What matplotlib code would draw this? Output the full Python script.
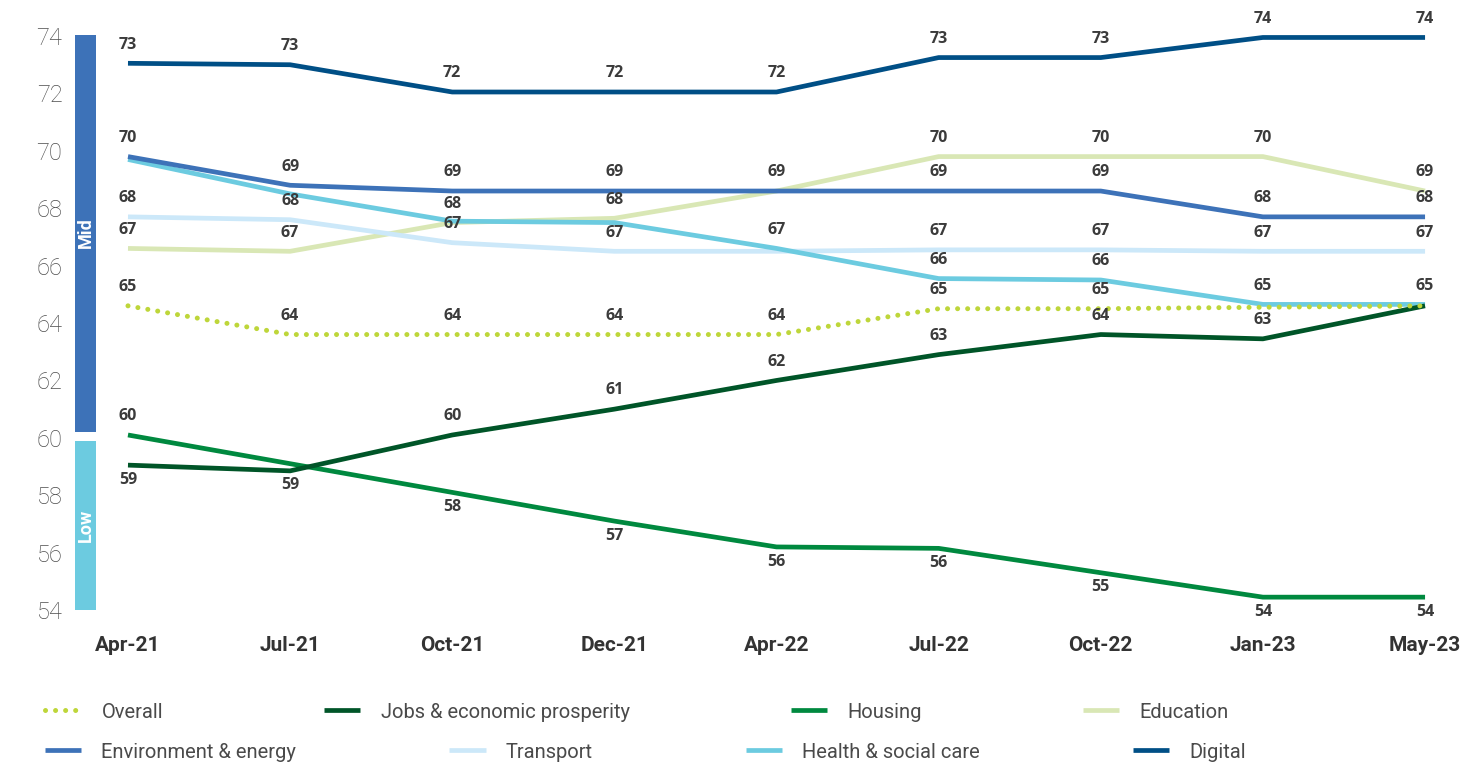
import matplotlib

matplotlib.use("Agg")
import matplotlib.pyplot as plt
import matplotlib.transforms as mtransforms
import numpy as np
from matplotlib.patches import Rectangle

plt.rcParams["font.family"] = ["Roboto", "DejaVu Sans"]

months = ["Apr-21", "Jul-21", "Oct-21", "Dec-21", "Apr-22", "Jul-22", "Oct-22", "Jan-23", "May-23"]

overall = [64.6, 63.6, 63.6, 63.6, 63.6, 64.5, 64.5, 64.55, 64.6]
jobs = [59.05, 58.85, 60.1, 61.0, 62.0, 62.9, 63.6, 63.45, 64.6]
housing = [60.1, 59.1, 58.1, 57.1, 56.2, 56.15, 55.3, 54.45, 54.45]
education = [66.6, 66.5, 67.5, 67.65, 68.6, 69.8, 69.8, 69.8, 68.6]
environment = [69.8, 68.8, 68.6, 68.6, 68.6, 68.6, 68.6, 67.7, 67.7]
transport = [67.7, 67.6, 66.8, 66.5, 66.5, 66.55, 66.55, 66.5, 66.5]
health = [69.7, 68.5, 67.55, 67.5, 66.6, 65.55, 65.5, 64.65, 64.65]
digital = [73.05, 73.0, 72.05, 72.05, 72.05, 73.25, 73.25, 73.95, 73.95]

band_names = ["Low", "Mid"]
band_edges = [54, 60, 74]

# name, values, colour, label spots ('a' above, 'b' below, '-' none) -- drawn bottom to top
SERIES = [
    ("Education", education, "#d9e7b5", "aaaa-aaaa"),
    ("Transport", transport, "#cce8f9", "aaaa-aaaa"),
    ("Health & social care", health, "#6ccbe0", "----aaaaa"),
    ("Environment & energy", environment, "#3d72b8", "aaaaaaaaa"),
    ("Digital", digital, "#004f86", "aaaaaaaaa"),
    ("Housing", housing, "#00893f", "a-bbbbbbb"),
    ("Jobs & economic prosperity", jobs, "#005528", "bbaaaaaa-"),
    ("Overall", overall, "#bed63a", "aaaaaaa--"),
]
# legend rows: (entries, vertical centre, column spacing)
LEGEND_ROWS = [
    (["Overall", "Jobs & economic prosperity", "Housing", "Education"], 0.0656, 8.0),
    (["Environment & energy", "Transport", "Health & social care", "Digital"], 0.0131, 7.6),
]
BAND_COLORS = ["#6ccbe0", "#3d72b8"]
LABEL_COLOR = "#3b3b3b"

fig = plt.figure(figsize=(14.61, 7.62), dpi=100)
ax = fig.add_axes([0.0684, 0.1798, 0.9172, 0.794])

x = np.arange(len(months))
handles = {}
for name, values, color, spots in SERIES:
    if name == "Overall":
        (line,) = ax.plot(x, values, color=color, lw=3.6, linestyle=(0, (0.01, 2.0)),
                          dash_capstyle="round", label=name)
    else:
        (line,) = ax.plot(x, values, color=color, lw=3.4, solid_joinstyle="round",
                          solid_capstyle="butt", label=name)
    handles[name] = line
    for xi, v, spot in zip(x, values, spots):
        if spot == "-":
            continue
        dy = 13.5 if spot == "a" else -10.5
        ax.annotate(str(int(np.floor(v + 0.5))), (xi, v), xytext=(0, dy),
                    textcoords="offset points", ha="center", va="center",
                    fontsize=11.5, fontweight="bold", color=LABEL_COLOR,
                    family=["Open Sans", "DejaVu Sans"])

# Low / Mid bands beside the value axis
band_tf = mtransforms.blended_transform_factory(ax.transAxes, ax.transData)
for i, (name, color) in enumerate(zip(band_names, BAND_COLORS)):
    lo, hi = band_edges[i], band_edges[i + 1]
    bottom = lo + 0.22 if i > 0 else lo
    top = hi - 0.12 if i < len(band_names) - 1 else hi + 0.05
    ax.add_patch(Rectangle((-0.0187, bottom), 0.0157, top - bottom, transform=band_tf,
                           facecolor=color, edgecolor="none", clip_on=False))
    ax.text(-0.0108, (bottom + top) / 2, name, transform=band_tf, rotation=90,
            ha="center", va="center", color="white", fontsize=13, fontweight="bold")

ax.set_xlim(-0.173, 8.092)
ax.set_ylim(53.48, 74.56)
ax.set_yticks(range(54, 75, 2))
ax.set_xticks(x, months)
for spine in ax.spines.values():
    spine.set_visible(False)
ax.tick_params(axis="y", length=0, pad=27, labelsize=17, labelcolor="#4d4d4d")
ax.tick_params(axis="x", length=0, pad=8, labelsize=15, labelcolor="#333333")
for lbl in ax.get_yticklabels():
    lbl.set_fontweight("light")
for lbl in ax.get_xticklabels():
    lbl.set_fontweight("bold")

for names, y_mid, spacing in LEGEND_ROWS:
    fig.legend([handles[n] for n in names], names, loc="center left",
               bbox_to_anchor=(0.0308, y_mid), ncol=4, frameon=False, borderaxespad=0,
               borderpad=0, handlelength=1.8, handletextpad=1.0, columnspacing=spacing,
               prop={"family": "Roboto", "weight": "normal", "size": 14.5},
               labelcolor="#4a4a4a")

fig.savefig("out.png", dpi=100)
